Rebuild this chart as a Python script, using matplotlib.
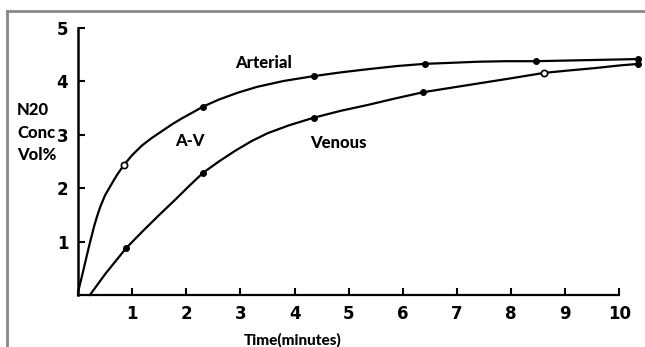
import matplotlib
matplotlib.use('Agg')
import matplotlib.pyplot as plt
from matplotlib.lines import Line2D

# traced curves (time in minutes, N2O vol%)
art_t = [0.0, 0.1, 0.2, 0.3, 0.36, 0.41, 0.5, 0.62, 0.72, 0.85, 1.0, 1.18, 1.36, 1.55, 1.74, 1.92, 2.1, 2.31,
         2.6, 2.95, 3.31, 3.8, 4.35, 4.85, 5.35, 5.9, 6.4, 6.9, 7.39, 7.9, 8.45, 9.4, 10.35]
art_c = [0.05, 0.47, 0.9, 1.3, 1.5, 1.65, 1.87, 2.08, 2.25, 2.44, 2.62, 2.8, 2.94, 3.07, 3.2, 3.31, 3.41, 3.53,
         3.66, 3.79, 3.9, 4.01, 4.1, 4.17, 4.23, 4.29, 4.33, 4.35, 4.37, 4.38, 4.38, 4.4, 4.42]
ven_t = [0.22, 0.5, 0.89, 1.2, 1.5, 1.8, 2.05, 2.31, 2.6, 2.9, 3.2, 3.5, 3.9, 4.35, 4.85, 5.35, 5.85,
         6.38, 7.0, 7.5, 8.0, 8.6, 9.0, 9.54, 10.0, 10.35]
ven_c = [0.0, 0.39, 0.88, 1.2, 1.5, 1.79, 2.04, 2.29, 2.5, 2.7, 2.88, 3.03, 3.18, 3.32, 3.45, 3.56, 3.68,
         3.8, 3.9, 3.98, 4.06, 4.16, 4.2, 4.25, 4.3, 4.33]

# measured points
art_pts_t = [2.31, 4.35, 6.4, 8.45, 10.35]
art_pts_c = [3.53, 4.1, 4.33, 4.38, 4.42]
art_open_t = [0.85]
art_open_c = [2.44]
ven_pts_t = [0.89, 2.31, 4.35, 6.38, 10.35]
ven_pts_c = [0.88, 2.29, 3.32, 3.8, 4.33]
ven_open_t = [8.6]
ven_open_c = [4.16]

xticks = [1, 2, 3, 4, 5, 6, 7, 8, 9, 10]
yticks = [1, 2, 3, 4, 5]

fig = plt.figure(figsize=(6.45, 3.47), dpi=100)
ax = fig.add_axes([0.121, 0.150, 0.873, 0.769])

ax.plot(art_t, art_c, color='black', lw=1.6, clip_on=False)
ax.plot(ven_t, ven_c, color='black', lw=1.6, clip_on=False)
ax.plot(art_pts_t, art_pts_c, 'o', color='black', ms=4, clip_on=False)
ax.plot(ven_pts_t, ven_pts_c, 'o', color='black', ms=4, clip_on=False)
ax.plot(art_open_t, art_open_c, 'o', mfc='white', mec='black', mew=1.2, ms=4.5, clip_on=False)
ax.plot(ven_open_t, ven_open_c, 'o', mfc='white', mec='black', mew=1.2, ms=4.5, clip_on=False)

ax.set_xlim(0, 10.4)
ax.set_ylim(0, 5)
for s in ['top', 'right']:
    ax.spines[s].set_visible(False)
ax.spines['left'].set_linewidth(1.8)
ax.spines['bottom'].set_linewidth(1.6)
ax.spines['bottom'].set_bounds(0, 10)
ax.spines['left'].set_bounds(0, 5)

ax.set_xticks(xticks)
ax.set_yticks(yticks)
ax.set_xticklabels([str(t) for t in xticks], fontsize=12, fontweight='bold')
ax.set_yticklabels([str(t) for t in yticks], fontsize=12, fontweight='bold')
ax.tick_params(direction='in', length=5, width=1.5, pad=7)

lab = ['Lato', 'DejaVu Sans']
ax.text(3.43, 4.35, 'Arterial', fontsize=12, fontweight='black', family=lab, ha='center', va='center')
ax.text(2.07, 2.88, 'A-V', fontsize=12, fontweight='black', family=lab, ha='center', va='center')
ax.text(4.81, 2.84, 'Venous', fontsize=12, fontweight='black', family=lab, ha='center', va='center')
ax.text(3.96, -0.84, 'Time(minutes)', fontsize=11, fontweight='black', family=lab, ha='center', va='center')

fig.text(17 / 645, 1 - 110 / 347, 'N20', fontsize=12, fontweight='black', family=lab, va='center')
fig.text(17 / 645, 1 - 133 / 347, 'Conc', fontsize=12, fontweight='black', family=lab, va='center')
fig.text(17 / 645, 1 - 155 / 347, 'Vol%', fontsize=12, fontweight='black', family=lab, va='center')

# gray frame (top and left edges of the cropped figure)
fig.add_artist(Line2D([7 / 645, 7 / 645], [0, 1 - 11 / 347], color='#888888', lw=2, transform=fig.transFigure))
fig.add_artist(Line2D([7 / 645, 1], [1 - 11 / 347, 1 - 11 / 347], color='#888888', lw=2, transform=fig.transFigure))

plt.savefig('out.png', dpi=100)
